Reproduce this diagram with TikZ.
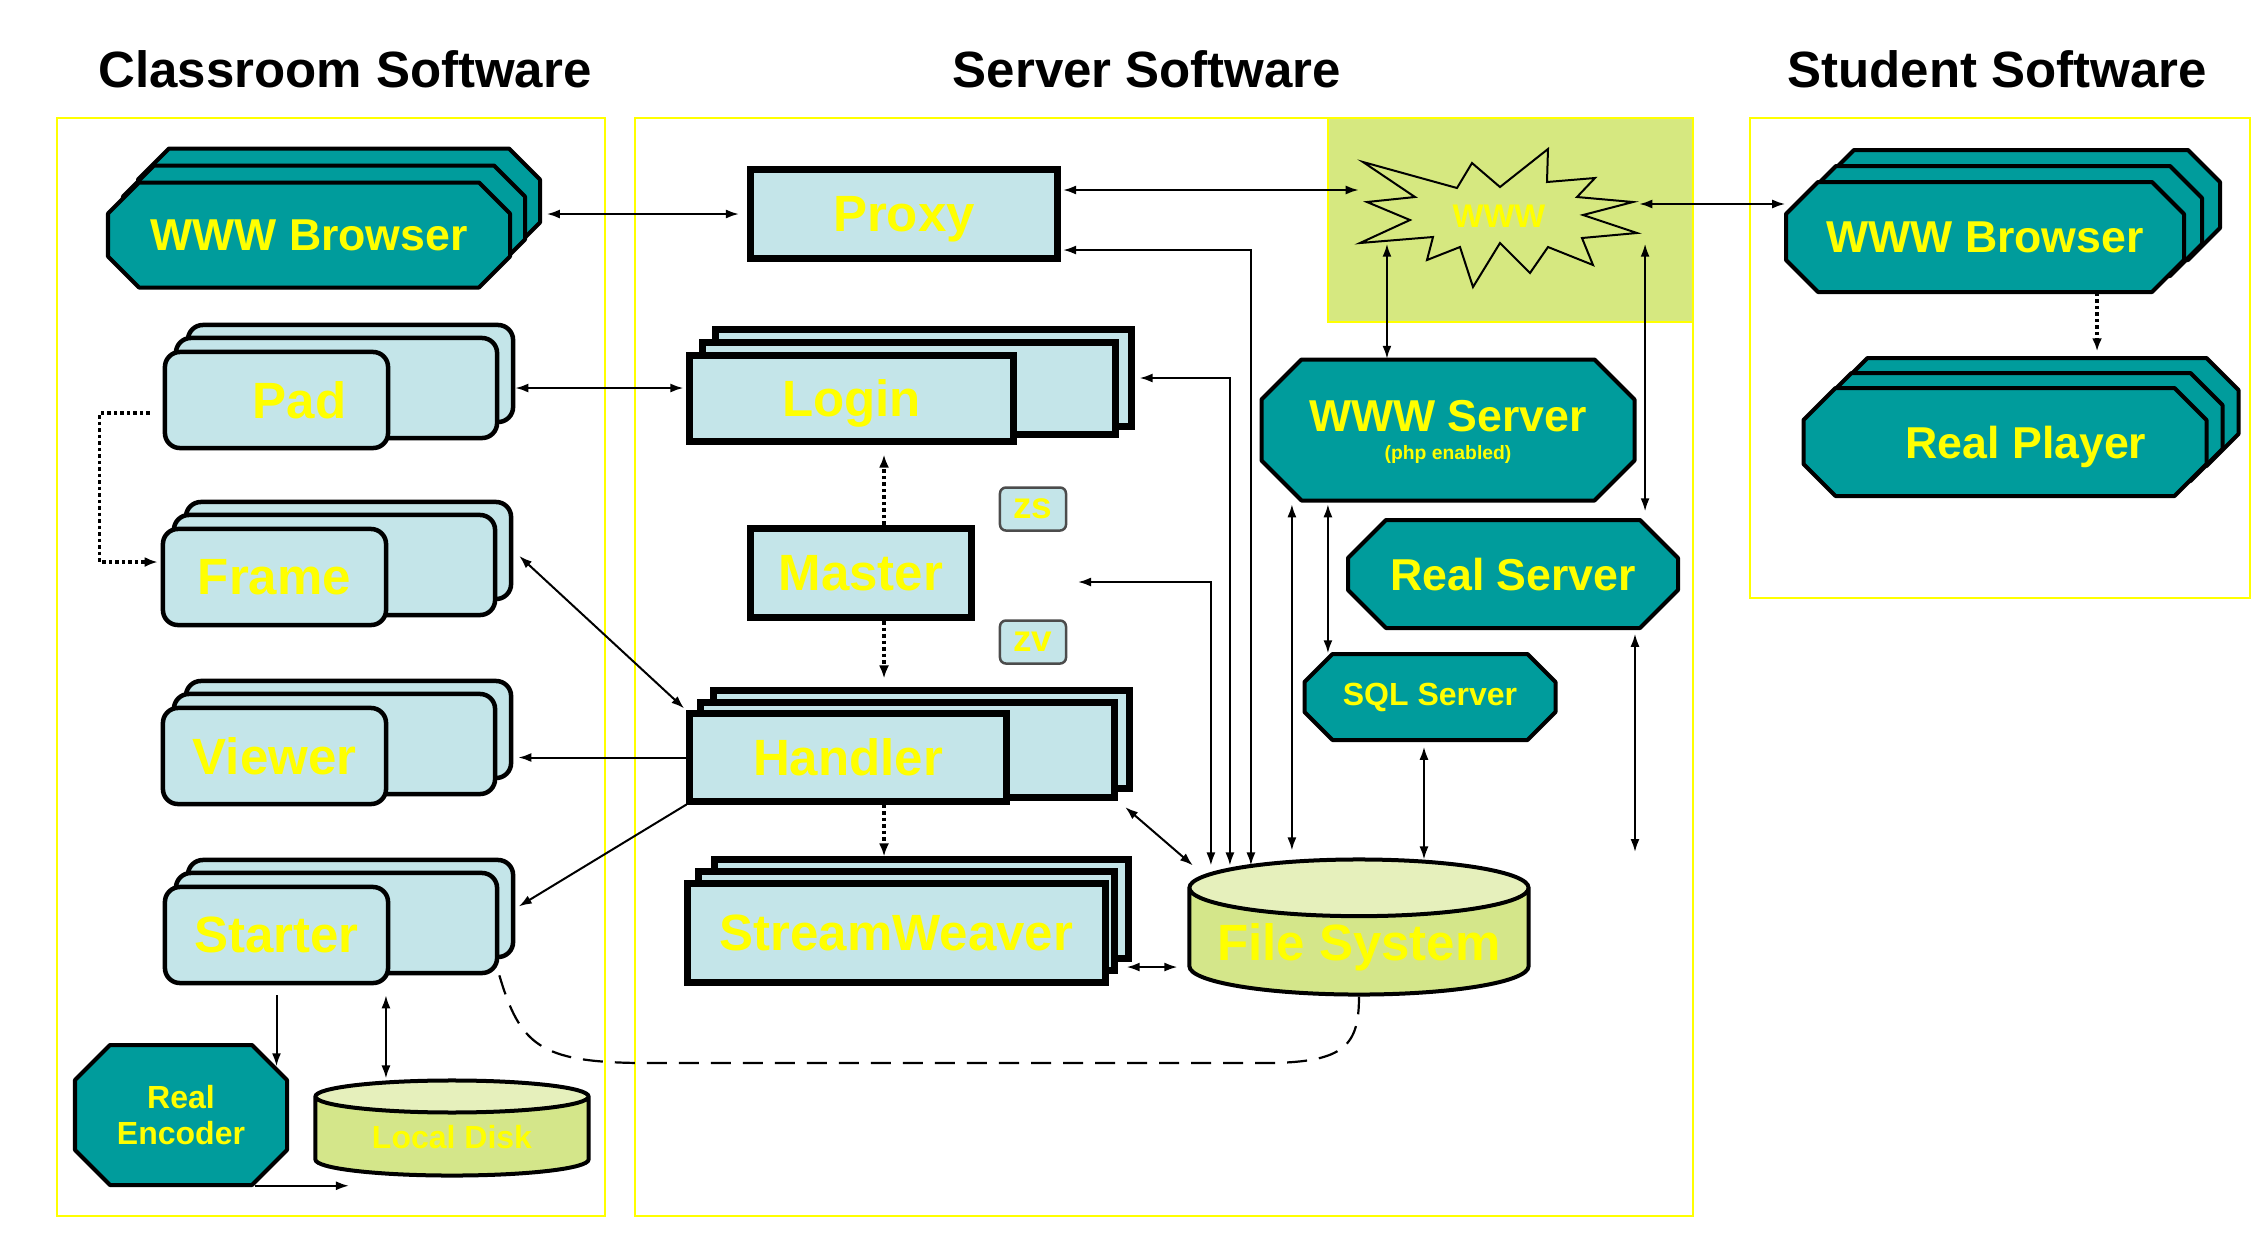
\documentclass[tikz,border=0pt]{standalone}
\usepackage{fontspec}
\setmainfont{Liberation Sans}
\usetikzlibrary{shapes.geometric,arrows.meta,calc}

\definecolor{tealbox}{RGB}{0,156,156}
\definecolor{appcyan}{RGB}{196,229,233}
\definecolor{diskbody}{RGB}{212,230,138}
\definecolor{disktop}{RGB}{230,240,188}
\definecolor{netgreen}{RGB}{214,232,128}
\definecolor{labelyellow}{RGB}{255,255,0}

% octagon: centre x, centre y, half width, half height, chamfer
\newcommand{\octagonat}[5]{%
	\draw[octoline] (#1-#3+#5,#2-#4) -- (#1+#3-#5,#2-#4) -- (#1+#3,#2-#4+#5) -- (#1+#3,#2+#4-#5)
		-- (#1+#3-#5,#2+#4) -- (#1-#3+#5,#2+#4) -- (#1-#3,#2+#4-#5) -- (#1-#3,#2-#4+#5) -- cycle;}

\tikzset{
	panel/.style={draw=labelyellow, line width=0.02cm},
	heading/.style={font=\fontsize{14.5}{17}\selectfont\bfseries},
	lblbig/.style={text=labelyellow, font=\fontsize{14.5}{17}\selectfont\bfseries, text depth=-0.14cm},
	lblmid/.style={text=labelyellow, font=\fontsize{12.7}{15}\selectfont\bfseries, text depth=-0.04cm},
	lblsmall/.style={text=labelyellow, font=\fontsize{9.1}{10.2}\selectfont\bfseries, align=center},
	lbltag/.style={text=labelyellow, font=\fontsize{10.5}{12}\selectfont\bfseries},
	appbox/.style={draw, fill=appcyan, rounded corners=0.15cm, line width=0.045cm, inner sep=0pt},
	procbox/.style={draw, fill=appcyan, line width=0.07cm, inner sep=0pt},
	tagbox/.style={draw=black!70, fill=appcyan, rounded corners=0.06cm, line width=0.025cm, inner sep=0pt},
	octoline/.style={draw, fill=tealbox, line width=0.04cm, line join=round},
	octolabel/.style={inner sep=0pt},
	disk/.style={cylinder, shape border rotate=90, anchor=shape center, draw, line width=0.04cm, inner sep=0pt,
		aspect=0.2, cylinder uses custom fill, cylinder body fill=diskbody, cylinder end fill=disktop},
	twoway/.style={{Latex[length=0.13cm,width=0.09cm]}-{Latex[length=0.13cm,width=0.09cm]}, line width=0.02cm},
	oneway/.style={-{Latex[length=0.13cm,width=0.09cm]}, line width=0.02cm},
	dotarrow/.style={-{Latex[length=0.13cm,width=0.1cm]}, line width=0.035cm, dash pattern=on 0.035cm off 0.03cm},
	dashlink/.style={line width=0.022cm, dash pattern=on 0.2cm off 0.12cm},
}

\begin{document}
\begin{tikzpicture}[x=0.01cm, y=-0.01cm]
	\useasboundingbox (0,0) rectangle (2253,1235);

	% panels and headings
	\node (tclass)   at (345,69)  [heading] {Classroom Software};
	\node (tserver)  at (1147,69) [heading] {Server Software};
	\node (tstudent) at (1997,69) [heading] {Student Software};
	\draw[panel] (57,118) rectangle (605,1216);
	\draw[panel] (635,118) rectangle (1693,1216);
	\draw[panel, fill=netgreen] (1328,118) rectangle (1693,322);
	\draw[panel] (1750,118) rectangle (2250,598);

	% classroom software
	\octagonat{339}{201}{201}{52.5}{31}
	\octagonat{324}{218}{201}{52.5}{31}
	\octagonat{309}{235}{201}{52.5}{31}
	\node (cbrowser) at (309,235) [octolabel, minimum width=4.02cm, minimum height=1.05cm, lblmid] {WWW Browser};

	\node (pad3) at (350.5,373.5) [appbox, minimum width=3.25cm, minimum height=0.97cm] {};
	\node (pad2) at (336.5,388)   [appbox, minimum width=3.21cm, minimum height=1.00cm] {};
	\node (pad)  at (276.5,400)   [appbox, minimum width=2.23cm, minimum height=0.96cm, lblbig] {\hspace*{0.46cm}Pad};

	\node (frame3) at (348.5,550.5) [appbox, minimum width=3.25cm, minimum height=0.97cm] {};
	\node (frame2) at (334.5,565)   [appbox, minimum width=3.21cm, minimum height=1.00cm] {};
	\node (frame)  at (274.5,577)   [appbox, minimum width=2.23cm, minimum height=0.96cm, lblbig] {Frame};

	\node (viewer3) at (348.5,729.5) [appbox, minimum width=3.25cm, minimum height=0.97cm] {};
	\node (viewer2) at (334.5,744)   [appbox, minimum width=3.21cm, minimum height=1.00cm] {};
	\node (viewer)  at (274.5,756)   [appbox, minimum width=2.23cm, minimum height=0.96cm, lblbig] {Viewer};

	\node (starter3) at (350.5,908.5) [appbox, minimum width=3.25cm, minimum height=0.97cm] {};
	\node (starter2) at (336.5,923)   [appbox, minimum width=3.21cm, minimum height=1.00cm] {};
	\node (starter)  at (276.5,935)   [appbox, minimum width=2.23cm, minimum height=0.96cm, lblbig] {Starter};

	\octagonat{181}{1115}{106}{70}{35}
	\node (encoder)   at (181,1115) [octolabel, minimum width=2.12cm, minimum height=1.40cm, lblsmall] {Real\\Encoder};
	\node (localdisk) at (452,1128) [disk, minimum width=2.73cm, minimum height=0.95cm, lblsmall] {Local Disk};

	% server software
	\draw[line width=0.02cm, fill=netgreen] (1363,162) -- (1457,188) -- (1472,163) -- (1500,187) -- (1548,149)
		-- (1547,182) -- (1595,178) -- (1577,197) -- (1633,202) -- (1583,215) -- (1637,233) -- (1582,238)
		-- (1593,265) -- (1548,247) -- (1530,273) -- (1500,243) -- (1473,287) -- (1460,247) -- (1427,260)
		-- (1433,237) -- (1360,243) -- (1410,220) -- (1367,202) -- (1415,197) -- cycle;
	\node (www) at (1499,216) [minimum width=2.79cm, minimum height=1.38cm, inner sep=0pt, text=labelyellow,
		font=\fontsize{9.3}{11}\selectfont\bfseries] {WWW};

	\node (proxy) at (904,214) [procbox, minimum width=3.07cm, minimum height=0.89cm, lblbig] {Proxy};

	\node (login3) at (923.5,378)   [procbox, minimum width=4.15cm, minimum height=0.96cm] {};
	\node (login2) at (909,388.5)   [procbox, minimum width=4.12cm, minimum height=0.91cm] {};
	\node (login)  at (851.5,398.5) [procbox, minimum width=3.23cm, minimum height=0.85cm, lblbig] {Login};

	\node (master) at (861,573)  [procbox, minimum width=2.20cm, minimum height=0.89cm, lblbig] {Master};
	\node (zs)     at (1033,509) [tagbox, minimum width=0.66cm, minimum height=0.43cm, lbltag] {zs};
	\node (zv)     at (1033,642) [tagbox, minimum width=0.66cm, minimum height=0.43cm, lbltag] {zv};

	\node (handler3) at (921.5,739.5) [procbox, minimum width=4.15cm, minimum height=0.97cm] {};
	\node (handler2) at (907.5,750)   [procbox, minimum width=4.13cm, minimum height=0.94cm] {};
	\node (handler)  at (848,757.5)   [procbox, minimum width=3.16cm, minimum height=0.87cm, lblbig] {Handler};

	\node (weaver3) at (921.5,909) [procbox, minimum width=4.13cm, minimum height=0.98cm] {};
	\node (weaver2) at (906.5,921) [procbox, minimum width=4.15cm, minimum height=0.98cm] {};
	\node (weaver)  at (896.5,933) [procbox, minimum width=4.17cm, minimum height=0.98cm, lblbig] {StreamWeaver};

	\node (filesys) at (1359,927) [disk, minimum width=3.39cm, minimum height=1.35cm, lblbig, text depth=-0.06cm] {File System};
	\coordinate (fstop) at ([yshift=-0.08cm]filesys.north);

	\octagonat{1448}{430}{186.5}{70.5}{40}
	\node (wwwserver) at (1448,430) [octolabel, minimum width=3.73cm, minimum height=1.41cm, lblmid, align=center]
		{WWW Server\\[-7pt]{\fontsize{5.5}{6.6}\selectfont (php enabled)}};
	\octagonat{1513}{574}{165}{54}{38}
	\node (realserver) at (1513,574) [octolabel, minimum width=3.30cm, minimum height=1.08cm, lblmid] {Real Server};
	\octagonat{1430}{697}{125.5}{43}{28}
	\node (sqlserver) at (1430,697) [octolabel, minimum width=2.51cm, minimum height=0.86cm, lblsmall] {SQL Server};

	% student software
	\octagonat{2021}{205}{199}{55}{32}
	\octagonat{2003}{221}{199}{55}{32}
	\octagonat{1985}{237}{199}{55}{32}
	\node (sbrowser) at (1985,237) [octolabel, minimum width=3.98cm, minimum height=1.10cm, lblmid] {WWW Browser};

	\octagonat{2037}{412}{201.5}{54}{32}
	\octagonat{2021}{427}{201.5}{54}{32}
	\octagonat{2005}{442}{201.5}{54}{32}
	\node (player) at (2005,442) [octolabel, minimum width=4.03cm, minimum height=1.08cm, lblmid] {\hspace*{0.42cm}Real Player};

	\coordinate (zpoint) at (1078,582);
	\coordinate (rsfoot) at (1635,852);

	% classroom links
	\draw[twoway, shorten <=0.06cm, shorten >=0.08cm] ([xshift=0.3cm]cbrowser.east |- proxy.west) -- (proxy.west);
	\draw[twoway, shorten >=0.03cm] (pad3.east |- pad2.east) -- (login.west |- pad2.east);
	\draw[twoway, shorten <=0.08cm, shorten >=0.03cm] (frame3.east) -- (handler.north west);
	\draw[oneway, shorten >=0.05cm] (handler.west) -- (handler.west -| viewer3.east);
	\draw[oneway, shorten >=0.04cm] (handler.south west) -- (starter3.east);
	\draw[dotarrow] ($(pad.west)+(-13,13)$) -- ++(-50,0) |- ($(frame.west)+(-3,-15)$);
	\draw[oneway, shorten <=0.1cm] (starter.south) -- ([yshift=-0.22cm]starter.south |- encoder.north);
	\draw[twoway, shorten <=0.1cm] ([xshift=-0.66cm]localdisk.north |- starter.south) -- ([xshift=-0.66cm]localdisk.north);
	\draw[oneway] ([xshift=0.74cm]encoder.south) -- ([xshift=-1.03cm]localdisk.south |- encoder.south);
	\draw[dashlink] (starter2.south east) .. controls (520,1045) and (540,1062) .. (640,1063)
		-- (1270,1063) .. controls (1345,1062) and (1359,1045) .. (filesys.south);

	% server links
	\draw[dotarrow, shorten >=0.1cm] ([xshift=0.23cm]master.north) -- ([xshift=0.23cm]master.north |- login.south);
	\draw[dotarrow, shorten >=0.09cm] ([xshift=0.23cm]master.south) -- ([xshift=0.23cm]master.south |- handler3.north);
	\draw[dotarrow] ([xshift=0.36cm]handler.south) -- ([xshift=0.36cm]handler.south |- weaver3.north);
	\draw[twoway, shorten <=0.02cm] ([yshift=0.24cm]proxy.east) -- ([yshift=0.24cm]proxy.east -| www.west);
	\draw[twoway, shorten <=0.02cm] ([yshift=-0.36cm]proxy.east) -| ([xshift=-1.08cm]fstop);
	\draw[twoway, shorten <=0.05cm] (login3.east) -| ([xshift=-1.29cm]fstop);
	\draw[twoway] (zpoint) -| ([xshift=-1.48cm]fstop);
	\draw[twoway, shorten <=0.03cm, shorten >=0.15cm] ([xshift=-1.56cm]wwwserver.south) -- ([xshift=-1.56cm]wwwserver.south |- fstop);
	\draw[twoway, shorten <=0.03cm] ([xshift=-1.2cm]wwwserver.south) -- ([xshift=-1.2cm]wwwserver.south |- sqlserver.north);
	\draw[twoway] ([xshift=-0.61cm]wwwserver.north) -- ([xshift=-0.61cm,yshift=0.42cm]wwwserver.north |- www.south);
	\draw[twoway, shorten <=0.08cm] ([xshift=1.32cm]realserver.north) -- ([xshift=1.32cm,yshift=0.42cm]realserver.north |- www.south);
	\draw[twoway, shorten <=0.06cm, shorten >=0.06cm] ([xshift=-0.06cm]sqlserver.south) -- ([xshift=-0.06cm]sqlserver.south |- fstop);
	\draw[twoway, shorten <=0.05cm] (realserver.south -| rsfoot) -- (rsfoot);
	\draw[twoway, shorten <=0.1cm] (handler2.south east) -- ([xshift=-1.66cm]fstop);
	\draw[twoway, shorten <=0.09cm, shorten >=0.1cm] ([yshift=-0.46cm]weaver2.east) -- ([yshift=-0.46cm]weaver2.east -| filesys.west);

	% student links
	\draw[twoway] ([yshift=0.33cm]sbrowser.west) -- ([yshift=0.33cm]sbrowser.west -| www.east);
	\draw[dotarrow] ([xshift=1.12cm]sbrowser.south) -- ([xshift=1.12cm,yshift=0.36cm]sbrowser.south |- player.north);
\end{tikzpicture}
\end{document}
